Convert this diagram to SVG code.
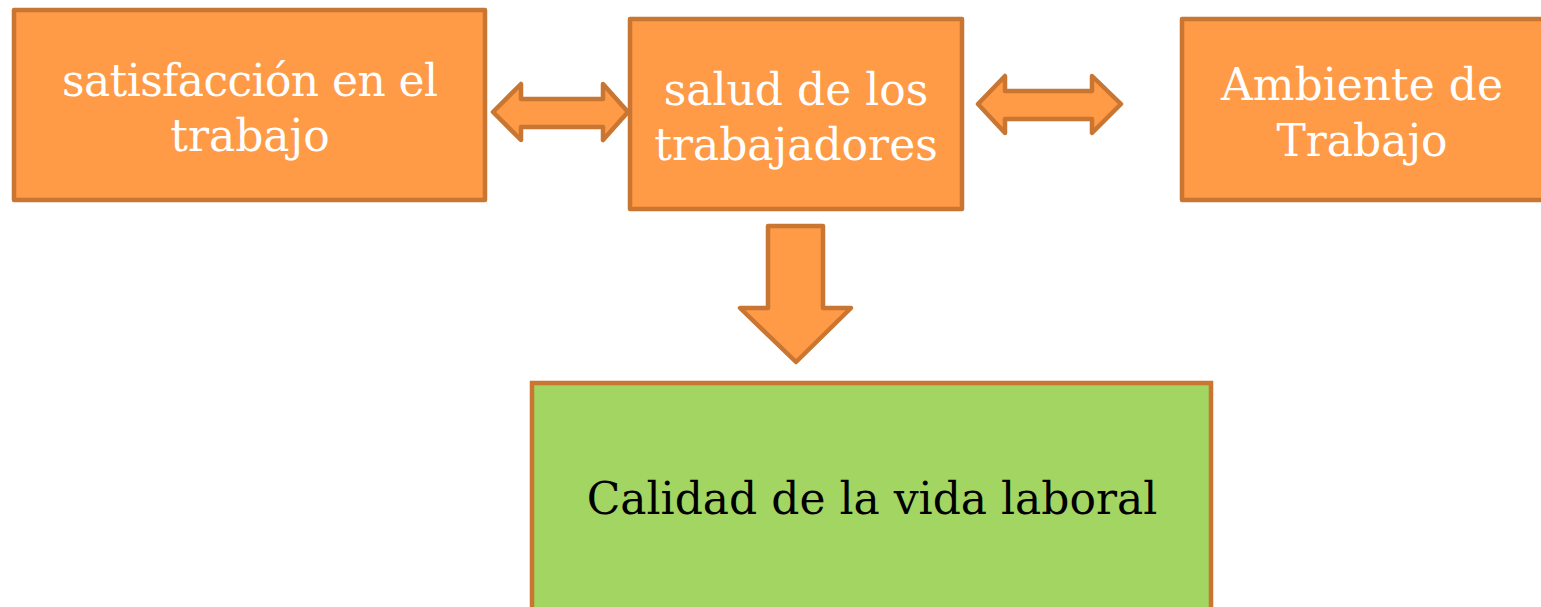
<svg xmlns="http://www.w3.org/2000/svg" width="1541" height="607" viewBox="0 0 1541 607">
<style>
.box{fill:#FF9A46;stroke:#C87631;stroke-width:4.5;stroke-linejoin:round}
.green{fill:#A2D562;stroke:#C87631;stroke-width:4.5}
.arr{fill:#FF9A46;stroke:#C87631;stroke-width:4.5;stroke-linejoin:round}
.t{font-family:"DejaVu Serif",serif;font-size:44px;text-anchor:middle;fill:#FFFFFF}
.tb{font-family:"DejaVu Serif",serif;font-size:44px;text-anchor:middle;fill:#000000}
</style>
<rect width="1541" height="607" fill="#FFFFFF"/>
<g id="node-satisfaccion">
<rect class="box" x="14" y="10" width="471" height="190"/>
<text class="t" x="250" y="96" textLength="376" lengthAdjust="spacing">satisfacción en el</text>
<text class="t" x="250" y="151">trabajo</text>
</g>
<g id="node-salud">
<rect class="box" x="630" y="19" width="332" height="190"/>
<text class="t" x="796" y="105">salud de los</text>
<text class="t" x="796" y="160">trabajadores</text>
</g>
<g id="node-ambiente">
<rect class="box" x="1182" y="19" width="364" height="181"/>
<text class="t" x="1362" y="100">Ambiente de</text>
<text class="t" x="1362" y="156">Trabajo</text>
</g>
<g id="node-calidad">
<rect class="green" x="532" y="383" width="679" height="240"/>
<text class="tb" x="872" y="514">Calidad de la vida laboral</text>
</g>
<g id="connectors">
<polygon class="arr" points="493,112 521,84 521,99 603,99 603,84 628,112 603,140 603,127 521,127 521,140"/>
<polygon class="arr" points="978,104 1005,76 1005,91 1092,91 1092,76 1121,104 1092,133 1092,119 1005,119 1005,133"/>
<polygon class="arr" points="768,226 823,226 823,308 851,308 796,362 740,308 768,308"/>
</g>
</svg>
